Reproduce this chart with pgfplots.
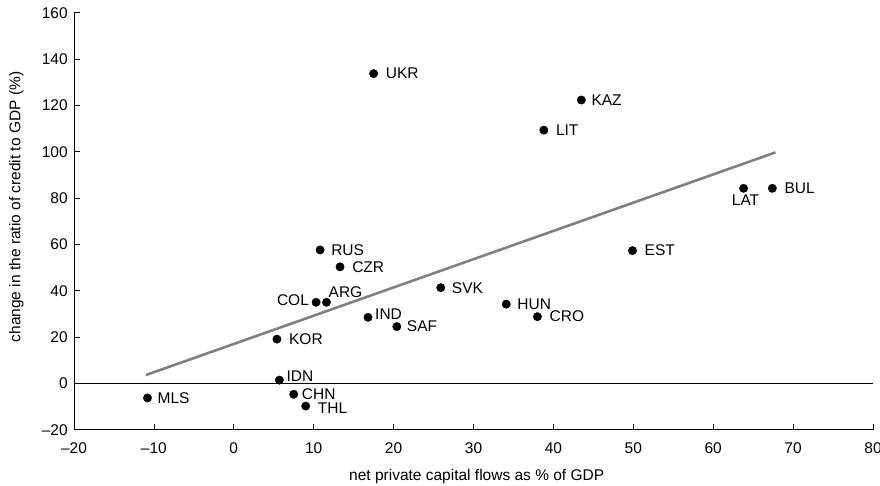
\documentclass[border=0pt]{standalone}
\usepackage{fontspec}
\setmainfont{Liberation Sans}
\usepackage{pgfplots}
\pgfplotsset{compat=1.18}
\begin{document}
\fontsize{15.5}{18}\selectfont
\begin{tikzpicture}
\begin{axis}[
  name=ax,
  scale only axis,
  width=799pt, height=417pt,
  xmin=-20, xmax=80, ymin=-20, ymax=160,
  axis lines=left,
  axis line style={-, black, line width=0.8pt},
  tick align=inside,
  major tick length=6pt,
  tick style={black, line width=0.8pt},
  xtick={-20,-10,...,80},
  xticklabels={--20,--10,0,10,20,30,40,50,60,70,80},
  ytick={-20,0,...,160},
  yticklabels={--20,0,20,40,60,80,100,120,140,160},
  xticklabel style={yshift=-8pt},
  yticklabel style={xshift=-1pt},
  xlabel={net private capital flows as \% of GDP},
  ylabel={change in the ratio of credit to GDP (\%)},
  xlabel style={at={(axis description cs:0.504,-0.1127)}, anchor=center},
  ylabel style={at={(axis description cs:-0.072,0.534)}, anchor=center},
  clip=false,
]
\addplot[black, line width=0.8pt] coordinates {(-20,0) (80,0)};
\addplot[color={rgb,255:red,128;green,128;blue,128}, line width=2.6pt] coordinates {(-11,3.6) (67.8,99.7)};
\addplot[only marks, mark=*, mark size=4.2pt, black] coordinates {
(17.5,133.7) (43.5,122.3) (38.8,109.3) (67.4,84.2) (63.8,84.2) (49.9,57.3)
(10.8,57.6) (13.3,50.3) (10.3,35) (11.6,35) (16.8,28.5) (20.4,24.5)
(5.4,19.1) (5.7,1.4) (7.5,-4.7) (9.0,-9.8) (-10.8,-6.3) (25.9,41.3)
(34.1,34.2) (38.0,28.8)
};
\begin{scope}[every node/.style={inner sep=0pt, anchor=west}]
\node[xshift=12pt] at (axis cs:17.5,133.7) {UKR};
\node[xshift=10pt] at (axis cs:43.5,122.3) {KAZ};
\node[xshift=12pt] at (axis cs:38.8,109.3) {LIT};
\node[xshift=12pt] at (axis cs:67.4,84.2) {BUL};
\node[anchor=center, xshift=2pt, yshift=-12pt] at (axis cs:63.8,84.2) {LAT};
\node[xshift=12pt] at (axis cs:49.9,57.3) {EST};
\node[xshift=11pt] at (axis cs:10.8,57.6) {RUS};
\node[xshift=12pt] at (axis cs:13.3,50.3) {CZR};
\node[anchor=east, xshift=-7pt, yshift=2pt] at (axis cs:10.3,35) {COL};
\node[xshift=2pt, yshift=10pt] at (axis cs:11.6,35) {ARG};
\node[xshift=7pt, yshift=3pt] at (axis cs:16.8,28.5) {IND};
\node[xshift=10pt] at (axis cs:20.4,24.5) {SAF};
\node[xshift=12pt] at (axis cs:5.4,19.1) {KOR};
\node[xshift=7pt, yshift=4pt] at (axis cs:5.7,1.4) {IDN};
\node[xshift=8pt] at (axis cs:7.5,-4.7) {CHN};
\node[xshift=12pt, yshift=-2pt] at (axis cs:9.0,-9.8) {THL};
\node[xshift=10pt] at (axis cs:-10.8,-6.3) {MLS};
\node[xshift=11pt] at (axis cs:25.9,41.3) {SVK};
\node[xshift=11pt] at (axis cs:34.1,34.2) {HUN};
\node[xshift=12pt] at (axis cs:38.0,28.8) {CRO};
\end{scope}
\end{axis}
\pgfresetboundingbox
\path[use as bounding box] ([xshift=-74pt,yshift=-55.3pt]ax.south west) rectangle ([xshift=7pt,yshift=12.7pt]ax.north east);
\end{tikzpicture}
\end{document}
